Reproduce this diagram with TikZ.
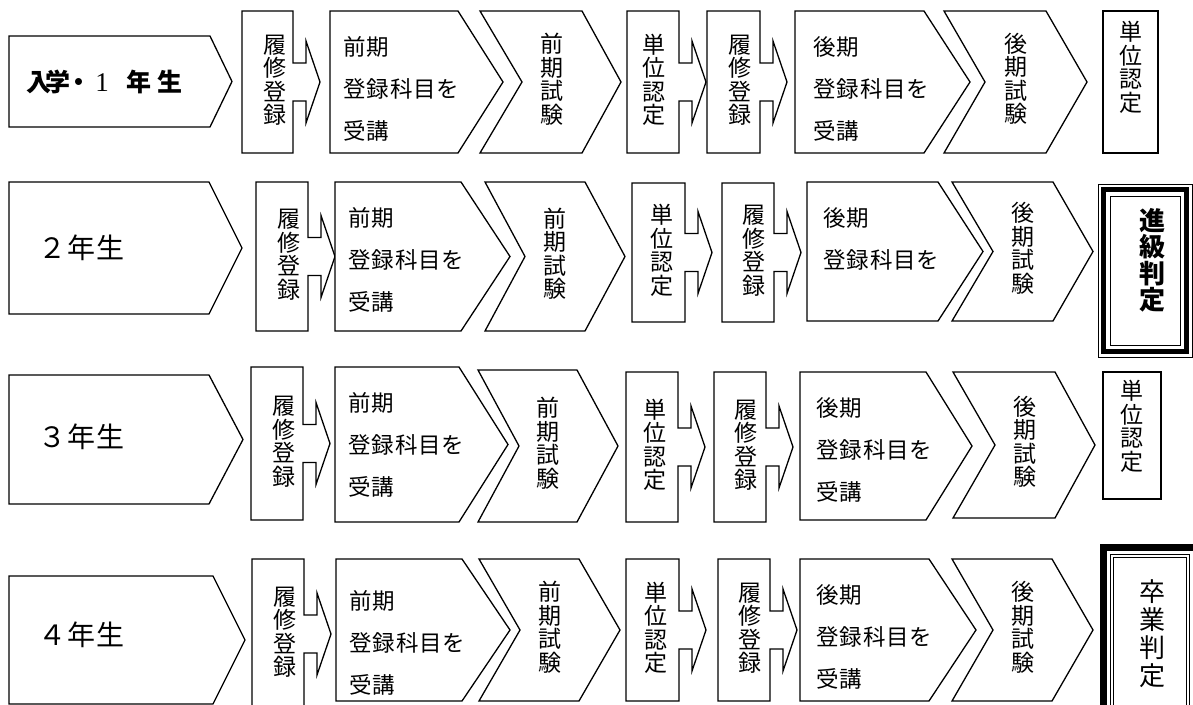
\documentclass[tikz,border=0pt]{standalone}
\usepackage{fontspec}
\setmainfont{Noto Sans CJK JP}
\newfontfamily\jpsp[LetterSpace=4]{Noto Sans CJK JP}
\newfontfamily\numserif{Liberation Serif}
\tikzset{
  shp/.style={draw=black, line width=1.3pt, line join=miter, fill=white},
  vtxt/.style={align=center, inner sep=0pt, font=\fontsize{23}{23.5}\selectfont},
  htxt/.style={anchor=west, align=left, inner sep=0pt, font=\jpsp\fontsize{22.5}{42}\selectfont},
  lbl/.style={anchor=west, inner sep=0pt, font=\fontsize{28}{30}\selectfont},
  thinline/.style={draw=black, line width=1pt},
}
% notched arrow box: name, L, R, top, bottom, text x-offset, text
\newcommand\mynotch[7]{%
  \pgfmathsetmacro\myc{(#4+#5)/2}%
  \draw[shp] (#2,#4) -- (#3,#4) -- (#3,\myc-19) -- (#3+13,\myc-19) -- (#3+13,\myc-41)
    -- (#3+27,\myc) -- (#3+13,\myc+41) -- (#3+13,\myc+19) -- (#3,\myc+19) -- (#3,#5) -- (#2,#5) -- cycle;
  \node[vtxt] (#1) at ({(#2+#3)/2+#6},{\myc-2}) {#7};}
% pointed box: L, R, tip, top, bottom
\newcommand\mybox[5]{%
  \pgfmathsetmacro\myc{(#4+#5)/2}%
  \draw[shp] (#1,#4) -- (#2,#4) -- (#3,\myc) -- (#2,#5) -- (#1,#5) -- cycle;}
% chevron: name, L, notch, R, tip, top, bottom, text
\newcommand\mychev[8]{%
  \pgfmathsetmacro\myc{(#6+#7)/2}%
  \draw[shp] (#2,#6) -- (#4,#6) -- (#5,\myc) -- (#4,#7) -- (#2,#7) -- (#3,\myc) -- cycle;
  \node[vtxt] (#1) at ({(#3+#4)/2},{\myc-3}) {#8};}
\begin{document}
\begin{tikzpicture}[x=1pt,y=-1pt]
\useasboundingbox (0,0) rectangle (1193,704);
\clip (0,0) rectangle (1193,704);
\fill[white] (0,0) rectangle (1193,704);

% ---------------- Row 1 ----------------
\mybox{9}{210}{232}{36}{127}
\node[anchor=west, inner sep=0pt, font=\bfseries\fontsize{25}{28}\selectfont] (l1) at (29,82)
  {\makebox[19pt]{入}\makebox[19pt]{学}\makebox[24pt]{・}\makebox[22pt]{\mdseries\numserif\fontsize{27}{28}\selectfont 1}\makebox[51pt]{年}\makebox[11pt]{生}};
\mynotch{a1}{242}{293}{11}{153}{7}{履\\修\\登\\録}
\mybox{330}{458}{503}{11}{153}
\node[htxt] (b1) at (343,89) {前期\\登録科目を\\受講};
\mychev{c1}{480}{522}{582}{621}{11}{153}{前\\期\\試\\験}
\mynotch{d1}{627}{679}{11}{153}{1}{単\\位\\認\\定}
\mynotch{e1}{707}{760}{11}{153}{6}{履\\修\\登\\録}
\mybox{795}{924}{970}{11}{153}
\node[htxt] (f1) at (813,89) {後期\\登録科目を\\受講};
\mychev{g1}{944}{985}{1046}{1087}{11}{153}{後\\期\\試\\験}
\draw[shp] (1103,11) rectangle (1158,153);
\node[vtxt, anchor=north] (h1) at (1130.5,21) {単\\位\\認\\定};

% ---------------- Row 2 ----------------
\mybox{9}{209}{242}{182}{314}
\node[lbl] (l2) at (38,248) {\makebox[29pt]{２}\makebox[29pt]{年}\makebox[29pt]{生}};
\mynotch{a2}{256}{308}{182}{331}{7}{履\\修\\登\\録}
\mybox{335}{461}{510}{182}{331}
\node[htxt] (b2) at (348,260) {前期\\登録科目を\\受講};
\mychev{c2}{485}{525}{585}{625}{182}{331}{前\\期\\試\\験}
\mynotch{d2}{632}{685}{183}{322}{3}{単\\位\\認\\定}
\mynotch{e2}{722}{774}{183}{322}{6}{履\\修\\登\\録}
\mybox{807}{938}{983}{182}{321}
\node[htxt] (f2) at (823,239) {後期\\登録科目を};
\mychev{g2}{952}{993}{1053}{1093}{182}{321}{後\\期\\試\\験}
\draw[thinline] (1098,184) rectangle (1192,357);
\draw[draw=black, line width=5pt] (1103.5,189.5) rectangle (1186.5,351.5);
\draw[thinline] (1110,196) rectangle (1180,345);
\node[align=center, inner sep=0pt, font=\bfseries\fontsize{26}{26.5}\selectfont] (j2) at (1152,260.5) {進\\級\\判\\定};

% ---------------- Row 3 ----------------
\mybox{9}{209}{243}{375}{504}
\node[lbl] (l3) at (38,437) {\makebox[29pt]{３}\makebox[29pt]{年}\makebox[29pt]{生}};
\mynotch{a3}{251}{303}{367}{520}{7}{履\\修\\登\\録}
\mybox{335}{459}{508}{367}{522}
\node[htxt] (b3) at (348,445) {前期\\登録科目を\\受講};
\mychev{c3}{478}{519}{577}{618}{370}{522}{前\\期\\試\\験}
\mynotch{d3}{626}{678}{372}{522}{3}{単\\位\\認\\定}
\mynotch{e3}{714}{766}{372}{522}{6}{履\\修\\登\\録}
\mybox{800}{926}{972}{372}{520}
\node[htxt] (f3) at (816,450) {後期\\登録科目を\\受講};
\mychev{g3}{953}{995}{1055}{1095}{372}{518}{後\\期\\試\\験}
\draw[shp] (1103,372) rectangle (1161,499);
\node[vtxt, anchor=north] (h3) at (1132,380) {単\\位\\認\\定};

% ---------------- Row 4 ----------------
\mybox{9}{213}{245}{576}{704}
\node[lbl] (l4) at (38,635) {\makebox[29pt]{４}\makebox[29pt]{年}\makebox[29pt]{生}};
\mynotch{a4}{252}{304}{559}{709}{7}{履\\修\\登\\録}
\mybox{336}{462}{510}{559}{701}
\node[htxt] (b4) at (349,643) {前期\\登録科目を\\受講};
\mychev{c4}{479}{520}{579}{620}{559}{701}{前\\期\\試\\験}
\mynotch{d4}{626}{679}{559}{701}{3}{単\\位\\認\\定}
\mynotch{e4}{718}{770}{559}{701}{6}{履\\修\\登\\録}
\mybox{800}{929}{976}{559}{701}
\node[htxt] (f4) at (816,637) {後期\\登録科目を\\受講};
\mychev{g4}{952}{993}{1052}{1093}{559}{701}{後\\期\\試\\験}
\draw[draw=black, line width=7pt] (1103.5,547.5) rectangle (1196.5,740);
\draw[thinline] (1110,554) rectangle (1189,740);
\draw[thinline] (1113,557) rectangle (1186,740);
\node[align=center, inner sep=0pt, font=\fontsize{26}{28}\selectfont] (j4) at (1152,633.5) {卒\\業\\判\\定};
\end{tikzpicture}
\end{document}
